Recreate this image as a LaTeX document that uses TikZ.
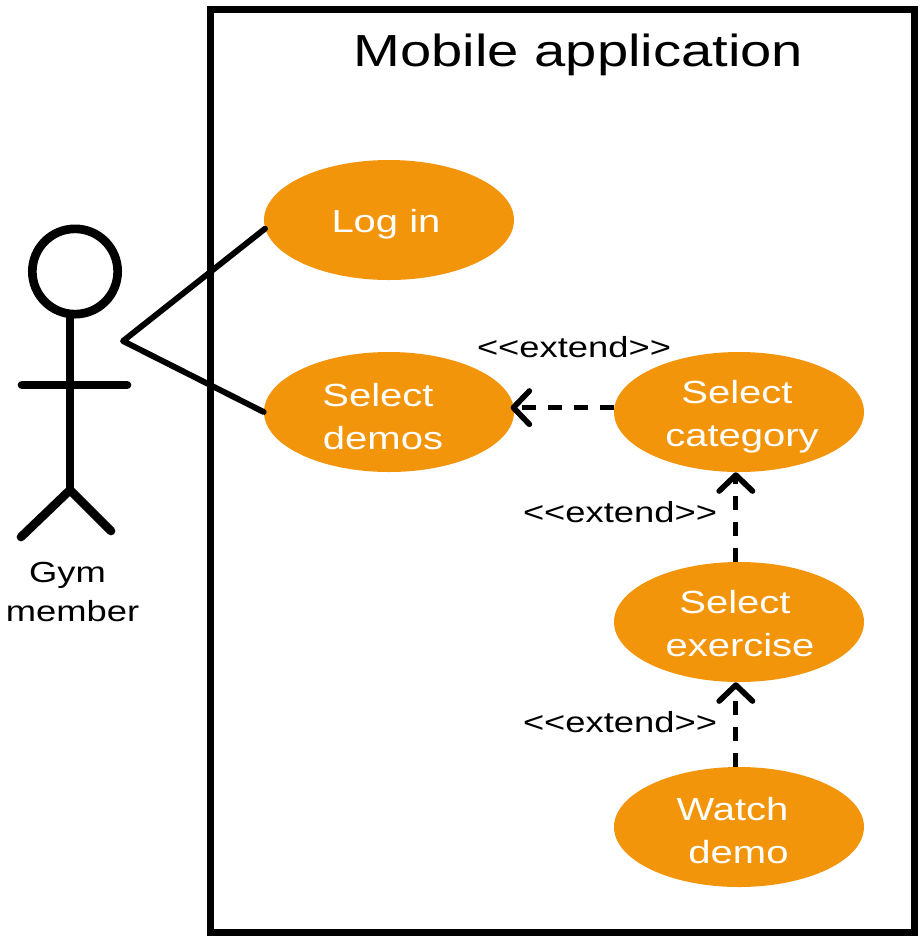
\documentclass[tikz,border=0pt]{standalone}
\usepackage{fontspec}
\setmainfont[FakeStretch=1.25]{Liberation Sans}
\usetikzlibrary{arrows.meta,shapes.geometric}
\definecolor{usecase}{RGB}{243,149,10}
\tikzset{
  casenode/.style={ellipse, fill=usecase, minimum width=187.5pt, minimum height=90pt, inner sep=0pt},
  casetext/.style={text=white, inner sep=0pt, align=center, font=\fontsize{24}{32.4}\selectfont},
  tagnode/.style={inner sep=0pt, align=center, font=\fontsize{21.8}{29}\selectfont},
  assoc/.style={line width=4.4pt, line cap=round, line join=round},
  stick/.style={line width=6.5pt, line cap=round},
  extendline/.style={line width=3.8pt, dash pattern=on 10.5pt off 9pt, -{Straight Barb[length=12pt,width=25pt,line width=4.2pt,round]}}
}
\begin{document}
\begin{tikzpicture}[x=0.75pt,y=-0.75pt]
\useasboundingbox (0,0) rectangle (922,940);

\node[draw, line width=5pt, minimum width=527.6pt, minimum height=692.4pt, inner sep=0pt] (app) at (562.5,471) {};
\node[inner sep=0pt, font=\fontsize{33.7}{40}\selectfont] (title) at (578.5,55) {Mobile application};

\node[casenode] (login) at (389,220) {};
\node[casenode] (demos) at (389,412) {};
\node[casenode] (category) at (739,412) {};
\node[casenode] (exercise) at (739,622) {};
\node[casenode] (watch) at (739,827) {};

\node[casetext] (logintext) at (386,224) {Log in};
\node[casetext] (demostext) at (383,416.5) {Select\hspace*{7.5pt}\\demos};
\node[casetext] (categorytext) at (742,417) {Select\hspace*{7.5pt}\\category};
\node[casetext] (exercisetext) at (740,623.5) {Select\hspace*{7.5pt}\\exercise};
\node[casetext] (watchtext) at (738.5,830.5) {Watch\hspace*{9pt}\\demo};

% actor
\node[circle, draw, line width=6.5pt, minimum size=64pt, inner sep=0pt] (head) at (75,271.5) {};
\coordinate (hip) at (70,490);
\coordinate (armL) at (22,385);
\coordinate (armR) at (127,385);
\coordinate (legL) at (21,537);
\coordinate (legR) at (111,531);
\coordinate (hand) at (123,341);
\draw[stick] (head.south -| hip) -- (hip);
\draw[stick] (armL) -- (armR);
\draw[stick] (legL) -- (hip) -- (legR);
\node[tagnode] (gym) at (72.5,592) {Gym\hspace*{7.5pt}\\member};

\draw[assoc] (login.184) -- (hand) -- (demos.180);

\draw[extendline, shorten >=-2.5pt] (category.178) -- (demos.2);
\draw[extendline] (exercise.93) -- (category.267);
\draw[extendline] (watch.93) -- (exercise.267);

\node[tagnode] (ext1) at (574,347) {<{}<extend>{}>};
\node[tagnode] (ext2) at (620,512) {<{}<extend>{}>};
\node[tagnode] (ext3) at (620,722) {<{}<extend>{}>};
\end{tikzpicture}
\end{document}
